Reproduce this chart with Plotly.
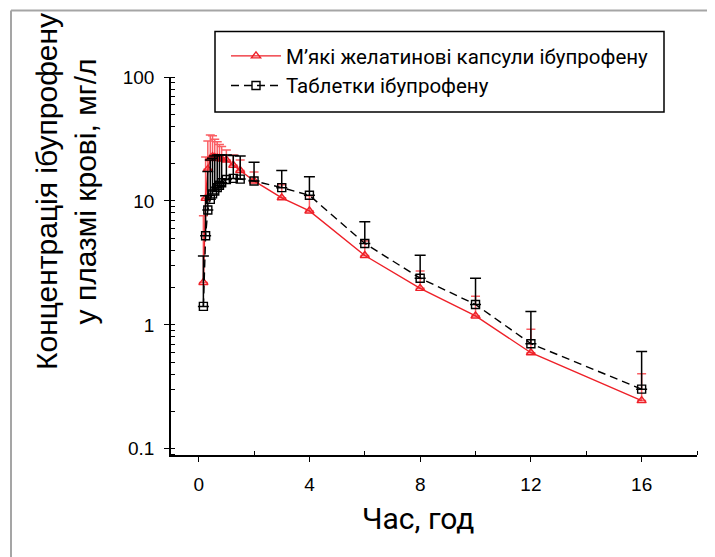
import plotly.graph_objects as go

# ---- data ----
time_h = [0.17, 0.25, 0.33, 0.42, 0.5, 0.58, 0.67, 0.75, 0.83, 1.0, 1.25, 1.5, 2, 3, 4, 6, 8, 10, 12, 16]

capsule_mean = [2.2, 10.5, 18.0, 22.0, 22.8, 22.5, 22.2, 22.0, 21.8, 21.4, 19.4, 17.6, 14.5, 10.6, 8.3, 3.63, 1.97, 1.18, 0.596, 0.245]
capsule_upper = [7.6, 22.6, 30.5, 34.1, 33.5, 31.5, 30.0, 28.5, 27.5, 25.8, 23.5, 21.4, 17.1, 13.5, 11.0, 4.76, 2.72, 1.70, 0.92, 0.403]

tablet_mean = [1.41, 5.23, 8.44, 10.3, 11.4, 12.0, 12.8, 13.4, 14.0, 14.9, 15.2, 15.0, 14.5, 12.8, 11.1, 4.54, 2.38, 1.46, 0.705, 0.303]
tablet_upper = [3.6, 11.0, 17.3, 21.4, 22.1, 23.0, 23.5, 23.5, 23.5, 23.5, 23.3, 23.0, 20.5, 17.6, 15.7, 6.8, 3.65, 2.38, 1.28, 0.61]

name_capsule = "М’які желатинові капсули ібупрофену"
name_tablet = "Таблетки ібупрофену"
x_ticks = [0, 4, 8, 12, 16]
y_ticks = [0.1, 1, 10, 100]
y_tick_text = ["0.1", "1", "10", "100"]
y_title = "Концентрація ібупрофену<br>у плазмі крові, мг/л"
x_title = "Час, год"

RED = "rgb(238,32,40)"
RED_ERR = "rgb(250,95,100)"

cap_err = [u - m for u, m in zip(capsule_upper, capsule_mean)]
tab_err = [u - m for u, m in zip(tablet_upper, tablet_mean)]

fig = go.Figure()
fig.add_trace(go.Scatter(
    x=time_h, y=capsule_mean, name=name_capsule, mode="lines+markers",
    line=dict(color=RED, width=1.4),
    marker=dict(symbol="triangle-up-open", size=8, color=RED, line=dict(width=1.4, color=RED)),
    error_y=dict(type="data", array=cap_err, symmetric=False, arrayminus=[0]*len(cap_err),
                 color=RED_ERR, thickness=1.5, width=4.5),
))
fig.add_trace(go.Scatter(
    x=time_h, y=tablet_mean, name=name_tablet, mode="lines+markers",
    line=dict(color="black", width=1.4, dash="8px,5px"),
    marker=dict(symbol="square-open", size=8, color="black", line=dict(width=1.4, color="black")),
    error_y=dict(type="data", array=tab_err, symmetric=False, arrayminus=[0]*len(tab_err),
                 color="black", thickness=1.5, width=5.5),
))

# page body has an 8px default margin, so the figure is offset by 8px in the window
OFF = 8
W, H = 715 - OFF, 557 - OFF
# plot area in window pixel coordinates
PL, PR, PT, PB = 171, 697, 77, 455
L, T = PL - OFF, PT - OFF
R, B = W - (PR - OFF), H - (PB - OFF)
pw, ph = PR - PL, PB - PT

def px(xp):
    return (xp - PL) / pw

def py(yp):
    return (PB - yp) / ph

fig.update_layout(
    width=W, height=H,
    margin=dict(l=L, r=R, t=T, b=B, autoexpand=False),
    paper_bgcolor="white", plot_bgcolor="white",
    showlegend=True,
    legend=dict(
        x=px(226), y=py(36), xanchor="left", yanchor="top",
        bgcolor="rgba(0,0,0,0)", borderwidth=0,
        font=dict(family="Roboto", size=20.5, color="black"),
        itemwidth=50,
    ),
    xaxis=dict(
        range=[-1, 18], tickmode="array", tickvals=x_ticks,
        ticks="outside", ticklen=5, tickwidth=1.3, tickcolor="black",
        showline=True, linecolor="black", linewidth=1.5, showgrid=False, zeroline=False,
        tickfont=dict(family="Liberation Sans", size=19, color="black"),
        ticklabelstandoff=6,
        minor=dict(tickmode="array", tickvals=[2, 6, 10, 14, 18], ticks="inside",
                   ticklen=4, tickwidth=1.3, tickcolor="black", showgrid=False),
    ),
    yaxis=dict(
        type="log", range=[-1.05, 2.0], tickmode="array", tickvals=y_ticks, ticktext=y_tick_text,
        ticks="outside", ticklen=5, tickwidth=1.3, tickcolor="black",
        showline=True, linecolor="black", linewidth=1.5, showgrid=False, zeroline=False,
        tickfont=dict(family="Liberation Sans", size=19, color="black"),
        ticklabelstandoff=6,
        minor=dict(ticks="inside", dtick="D1", ticklen=4, tickwidth=1.2, tickcolor="black", showgrid=False),
    ),
    shapes=[
        # outer frame
        dict(type="line", xref="paper", yref="paper", x0=px(11), x1=px(730), y0=py(10.5), y1=py(10.5),
             line=dict(color="rgb(165,165,165)", width=2)),
        dict(type="line", xref="paper", yref="paper", x0=px(11), x1=px(11), y0=py(10.5), y1=py(570),
             line=dict(color="rgb(165,165,165)", width=2)),
        # legend box
        dict(type="rect", xref="paper", yref="paper", x0=px(215), x1=px(664), y0=py(112), y1=py(31.5),
             line=dict(color="black", width=1.5), fillcolor="rgba(0,0,0,0)"),
    ],
    annotations=[
        dict(text=y_title, xref="paper", yref="paper", x=px(66), y=py(192), showarrow=False,
             textangle=-90, xanchor="center", yanchor="middle",
             font=dict(family="Liberation Sans", size=30, color="black")),
        dict(text=x_title, xref="paper", yref="paper", x=px(418), y=py(518), showarrow=False,
             xanchor="center", yanchor="middle",
             font=dict(family="Roboto", size=30, color="black")),
    ],
)

fig.write_html("out.html")
